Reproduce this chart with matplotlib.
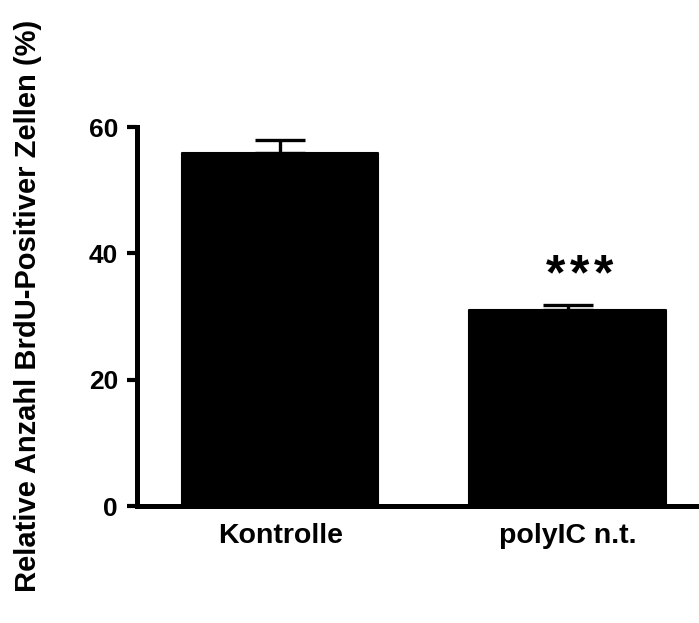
import matplotlib
matplotlib.use('Agg')
import matplotlib.pyplot as plt

# Werte
gruppen = ['Kontrolle', 'polyIC n.t.']
mittelwerte = [55.9, 31.0]
sem = [2.1, 0.9]
y_ticks = [0, 20, 40, 60]

plt.rcParams['font.family'] = ['Liberation Sans', 'DejaVu Sans']
plt.rcParams['font.weight'] = 'bold'

fig = plt.figure(figsize=(6.99, 6.23), dpi=100)
ax = fig.add_axes([0.1967, 0.1878, 0.8033, 0.6083])

pos = list(range(len(gruppen)))
ax.bar(pos, mittelwerte, width=0.683, color='black', edgecolor='black',
       linewidth=1.5, joinstyle='round', zorder=2)
ax.errorbar(pos, mittelwerte, yerr=[[0] * len(sem), sem], fmt='none',
            ecolor='black', elinewidth=2.4, capsize=18, capthick=2.4, zorder=1)

# Signifikanzsterne, einzeln gesetzt wegen Abstand
for k in (-1, 0, 1):
    ax.text(1.043 + k * 0.083, 36.4, '*', ha='center', va='center',
            fontsize=36, fontweight='bold')

ax.set_xlim(-0.498, 1.458)
ax.set_ylim(0, 60)
ax.set_yticks(y_ticks)
ax.set_yticklabels([str(t) for t in y_ticks], fontsize=19, fontweight='bold')
ax.set_xticks(pos)
ax.set_xticklabels(gruppen, fontsize=20.5, fontweight='bold')

for s in ['top', 'right']:
    ax.spines[s].set_visible(False)
for s in ['left', 'bottom']:
    ax.spines[s].set_linewidth(3.6)
ax.tick_params(axis='y', length=7, width=3, pad=7)
ax.tick_params(axis='x', length=0, pad=12)

fig.text(28 / 699, 0.509, 'Relative Anzahl BrdU-Positiver Zellen (%)',
         rotation=90, ha='center', va='center', fontsize=21, fontweight='bold')

fig.savefig('out.png', dpi=100)
